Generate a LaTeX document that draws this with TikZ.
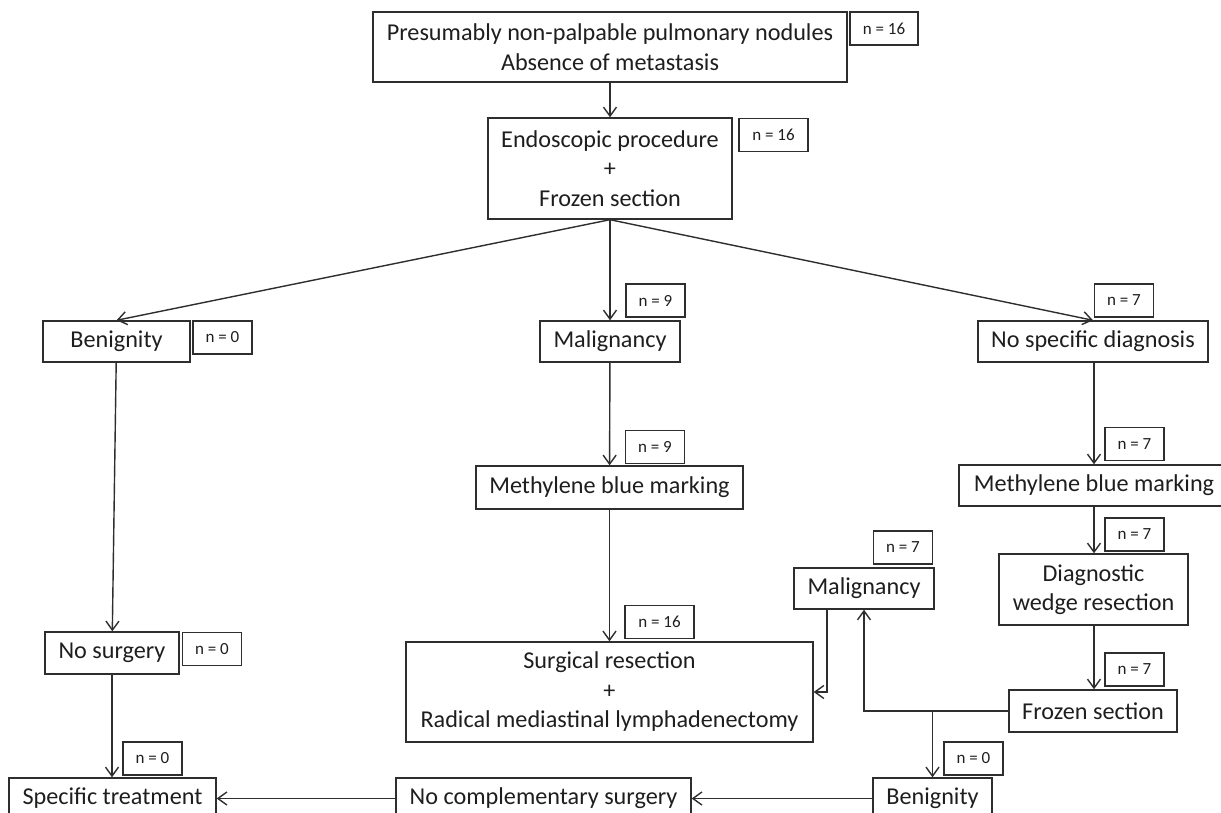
\documentclass[tikz,border=0pt]{standalone}
\usepackage{fontspec}
\setmainfont{Carlito}
\usepackage{tikz}
\usetikzlibrary{arrows.meta}
\usepackage{xcolor}
\definecolor{inkc}{HTML}{1E1E1E}
\definecolor{linec}{HTML}{2E2E2E}
\tikzset{
  stage/.style={draw=linec, line width=1.4pt, text=inkc, inner sep=0pt,
    align=center, font=\fontsize{24.2}{29.5}\selectfont},
  count/.style={draw=linec, line width=1.4pt, text=inkc, inner sep=0pt,
    minimum width=59pt, minimum height=33pt, font=\fontsize{17}{20}\selectfont},
  flow/.style={draw=linec, line width=1.4pt, -{Straight Barb[length=9pt,width=13pt]}},
}

\begin{document}
\begin{tikzpicture}[x=1pt, y=-1pt]
  \clip (0,0) rectangle (1221,813);
  % top of the chart
  \node[stage, minimum width=474pt, minimum height=70pt] (nodules) at (610,47)
    {Presumably non-palpable pulmonary nodules\\Absence of metastasis};
  \node[count, minimum width=68pt] (nnodules) at (884,28.5) {n = 16};
  \node[stage, minimum width=244pt, minimum height=101pt] (endo) at (610,168.5)
    {Endoscopic procedure\\+\\Frozen section};
  \node[count, minimum width=69pt] (nendo) at (773.5,135) {n = 16};
  % three outcomes
  \node[stage, minimum width=147pt, minimum height=41pt] (benign) at (116.5,341.5) {Benignity};
  \node[count] (nbenign) at (222.5,337.5) {n = 0};
  \node[stage, minimum width=140pt, minimum height=41pt] (malign) at (610,341.5) {Malignancy};
  \node[count] (nmalign) at (655.5,300.5) {n = 9};
  \node[stage, minimum width=230pt, minimum height=41pt] (nodiag) at (1093,341.5) {No specific diagnosis};
  \node[count] (nnodiag) at (1124,300.5) {n = 7};
  % left branch
  \node[stage, minimum width=134pt, minimum height=42pt] (nosurg) at (112,653) {No surgery};
  \node[count] (nnosurg) at (212,649) {n = 0};
  \node[stage, minimum width=207pt, minimum height=41pt] (treat) at (112.5,798.5) {Specific treatment};
  \node[count] (ntreat) at (152.5,758.5) {n = 0};
  % middle branch
  \node[stage, minimum width=267pt, minimum height=43pt] (markc) at (609.5,487.5) {Methylene blue marking};
  \node[count] (nmarkc) at (655,447) {n = 9};
  \node[stage, minimum width=407pt, minimum height=100pt] (resect) at (609.5,692)
    {Surgical resection\\+\\Radical mediastinal lymphadenectomy};
  \node[count, minimum width=69pt] (nresect) at (659.5,622) {n = 16};
  \node[stage, minimum width=295pt, minimum height=41pt] (nocompl) at (543.5,798.5) {No complementary surgery};
  % right branch
  \node[stage, minimum width=270pt, minimum height=41pt] (markr) at (1094,485.5) {Methylene blue marking};
  \node[count] (nmarkr) at (1134.5,444) {n = 7};
  \node[stage, minimum width=189pt, minimum height=71pt] (wedge) at (1093.5,589.5)
    {Diagnostic\\wedge resection};
  \node[count] (nwedge) at (1134.5,534.5) {n = 7};
  \node[stage, minimum width=168pt, minimum height=42pt] (frozen) at (1093,711) {Frozen section};
  \node[count] (nfrozen) at (1134.5,669.5) {n = 7};
  \node[stage, minimum width=140pt, minimum height=41pt] (malignr) at (864,588.5) {Malignancy};
  \node[count] (nmalignr) at (903,547.5) {n = 7};
  \node[stage, minimum width=119pt, minimum height=41pt] (benignr) at (932.5,798.5) {Benignity};
  \node[count] (nbenignr) at (973.5,758.5) {n = 0};
  % connectors
  \draw[flow] (nodules) -- (endo);
  \draw[flow] (endo.south) -- (benign.north);
  \draw[flow] (endo.south) -- (malign.north);
  \draw[flow] (endo.south) -- (nodiag.north);
  \draw[flow] (benign) -- (nosurg);
  \draw[flow] (nosurg.south) -- (nosurg.south |- treat.north);
  \draw[flow] (malign) -- (markc);
  \draw[flow] (markc) -- (resect);
  \draw[flow] (nodiag.south -| markr.north) -- (markr.north);
  \draw[flow] (markr.south) -- (markr.south |- wedge.north);
  \draw[flow] (wedge.south -| markr.north) -- (markr.north |- frozen.north);
  \coordinate (split) at (benignr.north |- frozen.west);
  \draw[flow] (frozen.west) -| (malignr.south);
  \draw[flow] (split) -- (benignr.north);
  \coordinate (malout) at ([xshift=-37pt]malignr.south);
  \draw[flow] (malout) |- (resect.east);
  \draw[flow] (benignr) -- (nocompl);
  \draw[flow] (nocompl) -- (treat);
\end{tikzpicture}
\end{document}
